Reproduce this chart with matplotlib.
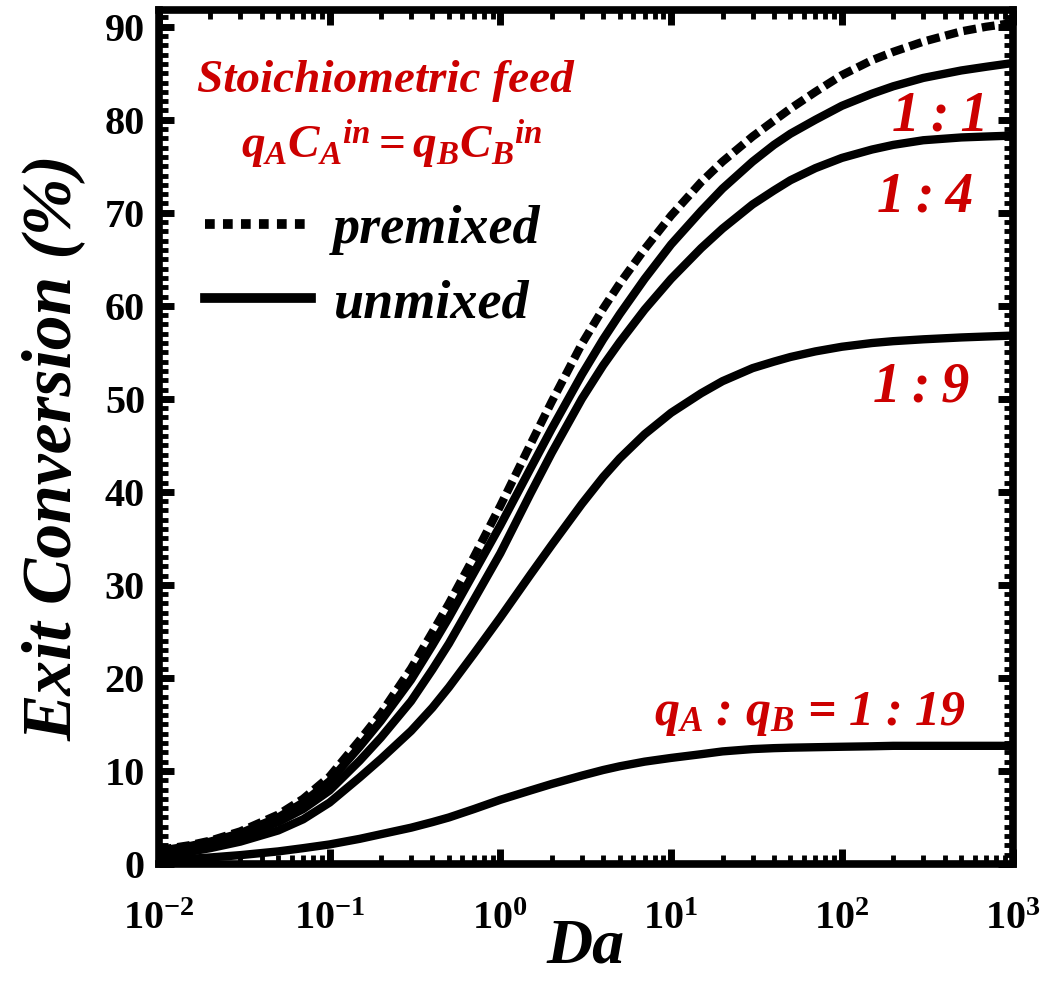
import numpy as np
import matplotlib
matplotlib.use("Agg")
import matplotlib.pyplot as plt
from matplotlib.lines import Line2D
from matplotlib.ticker import LogLocator, MultipleLocator, FixedLocator, FixedFormatter, NullFormatter

plt.rcParams['font.family'] = ['Liberation Serif', 'DejaVu Serif']
plt.rcParams['mathtext.fontset'] = 'custom'
plt.rcParams['mathtext.rm'] = 'Liberation Serif:bold'
plt.rcParams['mathtext.bf'] = 'Liberation Serif:bold'
plt.rcParams['mathtext.it'] = 'Liberation Serif:italic:bold'

# Damkohler number grid
Da = [0.01, 0.015, 0.02, 0.03, 0.05, 0.07, 0.1, 0.15, 0.2, 0.3, 0.4, 0.5, 0.7,
      1, 1.5, 2, 3, 4, 5, 7, 10, 15, 20, 30, 40, 50, 70,
      100, 150, 200, 300, 500, 700, 1000]

# exit conversion (%)
premixed = [1.5, 2.0, 2.5, 3.5, 5.3, 7.0, 9.4, 13.3, 16.2, 21.0, 24.9, 28.0, 33.0,
            38.5, 45.1, 49.7, 55.9, 59.7, 62.4, 66.1, 69.7, 73.3, 75.5, 78.2, 79.9, 81.2, 83.0,
            84.8, 86.4, 87.3, 88.4, 89.5, 90.0, 90.4]
ratio_1_1 = [1.4, 1.9, 2.4, 3.3, 5.0, 6.6, 8.9, 12.6, 15.4, 19.8, 23.5, 26.5, 31.3,
             36.4, 42.5, 46.8, 52.6, 56.4, 59.1, 62.9, 66.6, 70.2, 72.6, 75.5, 77.3, 78.5, 80.0,
             81.5, 82.8, 83.6, 84.5, 85.3, 85.7, 86.1]
ratio_1_4 = [1.3, 1.7, 2.2, 3.0, 4.5, 5.9, 7.9, 11.1, 13.6, 17.5, 20.9, 23.7, 28.4,
             33.4, 39.8, 44.2, 50.0, 53.6, 56.1, 59.6, 62.9, 66.2, 68.3, 70.9, 72.4, 73.5, 74.8,
             75.9, 76.8, 77.3, 77.8, 78.1, 78.2, 78.3]
ratio_1_9 = [0.9, 1.3, 1.7, 2.4, 3.6, 4.8, 6.6, 9.3, 11.3, 14.3, 16.8, 19.0, 22.6,
             26.5, 31.1, 34.3, 38.7, 41.6, 43.6, 46.2, 48.5, 50.6, 51.9, 53.3, 54.0, 54.5, 55.1,
             55.6, 56.0, 56.2, 56.4, 56.6, 56.7, 56.8]
ratio_1_19 = [0.4, 0.55, 0.7, 0.95, 1.35, 1.7, 2.1, 2.7, 3.2, 3.9, 4.5, 5.0, 5.9,
              6.9, 7.9, 8.6, 9.5, 10.1, 10.5, 11.0, 11.4, 11.8, 12.1, 12.35, 12.45, 12.5, 12.55,
              12.6, 12.65, 12.7, 12.7, 12.7, 12.7, 12.7]

xticks = [1e-2, 1e-1, 1e0, 1e1, 1e2, 1e3]
xtick_labels = [r'$\mathbf{10^{-2}}$', r'$\mathbf{10^{-1}}$', r'$\mathbf{10^{0}}$',
                r'$\mathbf{10^{1}}$', r'$\mathbf{10^{2}}$', r'$\mathbf{10^{3}}$']
yticks = [0, 10, 20, 30, 40, 50, 60, 70, 80, 90]

red = '#cc0000'
lw = 6
dash = (0, (1.55, 0.7))

fig = plt.figure(figsize=(10.45, 9.81), dpi=100)
ax = fig.add_axes([0.152, 0.1193, 0.817, 0.8705])

ax.plot(Da, premixed, color='black', lw=lw, linestyle=dash, dash_capstyle='butt')
ax.plot(Da, ratio_1_1, color='black', lw=lw)
ax.plot(Da, ratio_1_4, color='black', lw=lw)
ax.plot(Da, ratio_1_9, color='black', lw=lw)
ax.plot(Da, ratio_1_19, color='black', lw=lw)

ax.set_xscale('log')
ax.set_xlim(1e-2, 1e3)
ax.set_ylim(0, 91.8)

ax.xaxis.set_major_locator(FixedLocator(xticks))
ax.xaxis.set_major_formatter(FixedFormatter(xtick_labels))
ax.xaxis.set_minor_locator(LogLocator(base=10, subs=np.arange(2, 10), numticks=20))
ax.xaxis.set_minor_formatter(NullFormatter())
ax.set_yticks(yticks)
ax.yaxis.set_minor_locator(MultipleLocator(1))

for s in ax.spines.values():
    s.set_linewidth(5.5)
ax.tick_params(which='both', direction='in', top=True, right=True)
ax.tick_params(which='major', length=11, width=5, labelsize=29, pad=10)
ax.tick_params(axis='x', which='major', pad=27)
ax.tick_params(which='minor', length=6.5, width=3.5)
for lab in ax.get_yticklabels():
    lab.set_fontweight('bold')

ax.set_xlabel('Da', fontsize=46, fontweight='bold', fontstyle='italic')
ax.xaxis.set_label_coords(0.5, -0.064)
ax.set_ylabel('Exit Conversion (%)', fontsize=50, fontweight='bold', fontstyle='italic')
ax.yaxis.set_label_coords(-0.086, 0.488)

tkw = dict(fontweight='bold', fontstyle='italic', color=red)
ax.text(0.213, 83.0, 'Stoichiometric feed', fontsize=34, ha='center', va='baseline', **tkw)
ax.text(0.231, 75.9, r'$q_{A}C_{A}{}^{in} = q_{B}C_{B}{}^{in}$', fontsize=34,
        ha='center', va='baseline', color=red)
ax.text(374, 78.9, '1\u2009:\u20091', fontsize=40, ha='center', va='baseline', **tkw)
ax.text(309, 70.1, '1\u2009:\u20094', fontsize=40, ha='center', va='baseline', **tkw)
ax.text(293, 49.7, '1\u2009:\u20099', fontsize=40, ha='center', va='baseline', **tkw)
ax.text(64.7, 14.9, r'$q_{A}$ : $q_{B}$ = 1 : 19', fontsize=36, ha='center', va='baseline', **tkw)

h_pre = Line2D([], [], color='black', lw=7, linestyle=(0, (1.0, 0.85)), dash_capstyle='butt')
h_un = Line2D([], [], color='black', lw=7)
ax.legend([h_pre, h_un], ['premixed', 'unmixed'], loc='upper left',
          bbox_to_anchor=(0.054, 0.772), frameon=False, borderpad=0, borderaxespad=0,
          handlelength=1.95, handletextpad=0.42, labelspacing=0.45,
          prop=dict(family='Liberation Serif', weight='bold', style='italic', size=39))

fig.savefig('out.png', dpi=100)
